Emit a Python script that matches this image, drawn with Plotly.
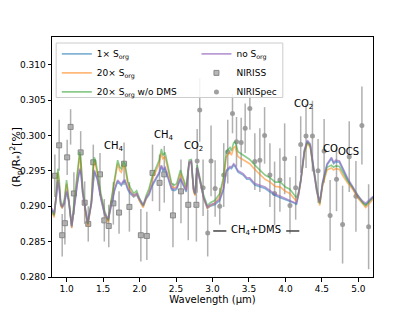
import plotly.graph_objects as go

# ---------------- data ----------------
wavelength = [
    0.80, 0.83, 0.86, 0.88, 0.90, 0.92, 0.94, 0.97, 1.00, 1.03,
    1.07, 1.11, 1.15, 1.18, 1.20, 1.22, 1.26, 1.29, 1.34, 1.36,
    1.38, 1.40, 1.42, 1.47, 1.52, 1.57, 1.61, 1.66, 1.70, 1.73,
    1.75, 1.78, 1.80, 1.84, 1.87, 1.92, 1.96, 2.00, 2.05, 2.09,
    2.13, 2.17, 2.21, 2.25, 2.27, 2.30, 2.32, 2.35, 2.39, 2.44,
    2.48, 2.51, 2.56, 2.60, 2.64, 2.68, 2.71, 2.74, 2.76, 2.79,
    2.83, 2.88, 2.93, 2.97, 3.03, 3.10, 3.15, 3.19, 3.24, 3.26,
    3.29, 3.31, 3.35, 3.42, 3.47, 3.51, 3.58, 3.65, 3.72, 3.79,
    3.86, 3.93, 4.00, 4.06, 4.13, 4.15, 4.18, 4.21, 4.26, 4.30,
    4.34, 4.38, 4.43, 4.47, 4.51, 4.57, 4.63, 4.66, 4.69, 4.74,
    4.78, 4.85, 4.92, 4.99, 5.06, 5.10, 5.16, 5.20,
]

model_1x = [
    .2895, .2888, .2913, .2935, .2923, .2901, .2898, .2903, .2920, .2906,
    .2870, .2903, .2933, .2951, .2943, .2918, .2890, .2874, .2903, .2933,
    .2949, .2943, .2938, .2910, .2888, .2880, .2898, .2923, .2935, .2931,
    .2929, .2934, .2935, .2923, .2918, .2913, .2916, .2908, .2900, .2910,
    .2916, .2928, .2935, .2943, .2946, .2956, .2950, .2953, .2940, .2923,
    .2922, .2924, .2938, .2930, .2920, .2960, .2962, .2923, .2916, .2953,
    .2934, .2910, .2897, .2900, .2902, .2908, .2923, .2949, .2954, .2953,
    .2958, .2956, .2948, .2944, .2938, .2938, .2930, .2927, .2925, .2920,
    .2915, .2912, .2909, .2906, .2904, .2902, .2916, .2935, .2978, .2991,
    .2986, .2954, .2920, .2904, .2933, .2958, .2967, .2960, .2963, .2962,
    .2953, .2938, .2926, .2913, .2905, .2902, .2908, .2912,
]

model_20x = [
    .2891, .2884, .2918, .2948, .2930, .2901, .2897, .2906, .2932, .2909,
    .2869, .2909, .2946, .2972, .2955, .2923, .2890, .2872, .2905, .2946,
    .2964, .2957, .2946, .2914, .2890, .2877, .2905, .2937, .2960, .2950,
    .2948, .2957, .2955, .2931, .2923, .2914, .2918, .2907, .2898, .2911,
    .2921, .2937, .2946, .2957, .2960, .2975, .2967, .2970, .2950, .2928,
    .2926, .2928, .2946, .2936, .2923, .2962, .2963, .2921, .2915, .2954,
    .2936, .2911, .2897, .2901, .2904, .2914, .2936, .2970, .2976, .2972,
    .2983, .2984, .2970, .2966, .2962, .2960, .2952, .2945, .2938, .2934,
    .2928, .2927, .2921, .2918, .2910, .2907, .2916, .2935, .2975, .2989,
    .2983, .2952, .2921, .2901, .2929, .2951, .2954, .2951, .2953, .2952,
    .2944, .2933, .2924, .2912, .2902, .2898, .2905, .2910,
]

model_20x_nodms = [
    .2894, .2887, .2922, .2953, .2935, .2905, .2900, .2910, .2937, .2913,
    .2873, .2913, .2951, .2977, .2960, .2927, .2894, .2875, .2908, .2950,
    .2969, .2962, .2951, .2918, .2894, .2880, .2908, .2941, .2965, .2955,
    .2953, .2962, .2960, .2935, .2927, .2918, .2922, .2911, .2901, .2915,
    .2925, .2941, .2951, .2962, .2965, .2981, .2972, .2976, .2955, .2932,
    .2930, .2932, .2951, .2940, .2927, .2965, .2966, .2925, .2918, .2958,
    .2940, .2915, .2901, .2905, .2908, .2918, .2941, .2977, .2983, .2978,
    .2990, .2991, .2977, .2972, .2968, .2966, .2958, .2951, .2944, .2940,
    .2934, .2934, .2927, .2924, .2915, .2912, .2920, .2937, .2977, .2991,
    .2985, .2955, .2925, .2904, .2932, .2955, .2958, .2955, .2957, .2956,
    .2948, .2936, .2927, .2915, .2905, .2901, .2908, .2913,
]

model_none = [
    .2897, .2890, .2915, .2937, .2925, .2903, .2900, .2905, .2922, .2908,
    .2872, .2905, .2935, .2953, .2945, .2920, .2892, .2876, .2905, .2935,
    .2951, .2945, .2940, .2912, .2890, .2882, .2900, .2925, .2937, .2933,
    .2931, .2936, .2937, .2925, .2920, .2915, .2918, .2910, .2902, .2912,
    .2918, .2930, .2937, .2945, .2948, .2958, .2952, .2955, .2942, .2925,
    .2924, .2926, .2940, .2932, .2922, .2962, .2964, .2925, .2918, .2955,
    .2936, .2912, .2899, .2902, .2904, .2910, .2925, .2951, .2956, .2955,
    .2960, .2958, .2950, .2946, .2940, .2940, .2932, .2929, .2927, .2922,
    .2917, .2914, .2911, .2908, .2906, .2904, .2918, .2937, .2980, .2993,
    .2988, .2956, .2922, .2906, .2935, .2960, .2969, .2962, .2965, .2964,
    .2955, .2940, .2928, .2915, .2907, .2904, .2910, .2914,
]

niriss_wl = [0.839, 0.898, 0.940, 0.977, 1.008, 1.055, 1.100, 1.193, 1.248,
             1.297, 1.366, 1.458, 1.517, 1.578, 1.641, 1.719, 1.788, 1.861,
             2.018, 2.100, 2.178, 2.274, 2.339, 2.458, 2.568, 2.668, 2.779]
niriss_depth = [0.2943, 0.2986, 0.2859, 0.2876, 0.2969, 0.3012, 0.2918, 0.2976,
                0.2905, 0.2875, 0.2962, 0.2945, 0.2880, 0.2872, 0.2904, 0.2891,
                0.2960, 0.2899, 0.2859, 0.2858, 0.2947, 0.2933, 0.2945, 0.2887,
                0.2921, 0.2902, 0.2902]
niriss_err = [0.0030, 0.0036, 0.0030, 0.0030, 0.0025, 0.0025, 0.0030, 0.0030,
              0.0030, 0.0025, 0.0025, 0.0030, 0.0030, 0.0030, 0.0030, 0.0030,
              0.0030, 0.0035, 0.0037, 0.0034, 0.0040, 0.0040, 0.0040, 0.0045,
              0.0045, 0.0050, 0.0052]

nirspec_wl = [2.790, 2.825, 2.871, 2.934, 2.980, 3.036, 3.099, 3.154, 3.209,
              3.274, 3.329, 3.393, 3.448, 3.512, 3.580, 3.649, 3.714, 3.787,
              3.851, 3.924, 3.989, 4.062, 4.140, 4.209, 4.282, 4.370, 4.447,
              4.530, 4.612, 4.700, 4.783, 4.874, 4.966, 5.048, 5.140]
nirspec_depth = [0.2964, 0.3036, 0.2926, 0.2862, 0.2964, 0.2925, 0.2900, 0.2944,
                 0.2977, 0.3031, 0.2991, 0.2990, 0.3010, 0.3038, 0.2963, 0.2965,
                 0.3000, 0.2944, 0.2918, 0.2937, 0.2967, 0.2901, 0.2926, 0.2987,
                 0.2999, 0.2999, 0.2950, 0.2978, 0.2887, 0.2938, 0.2874, 0.2970,
                 0.2914, 0.3014, 0.2871]
nirspec_err = [0.0045, 0.0045, 0.0040, 0.0033, 0.0050, 0.0040, 0.0026, 0.0045,
               0.0045, 0.0028, 0.0035, 0.0035, 0.0035, 0.0030, 0.0040, 0.0045,
               0.0040, 0.0045, 0.0045, 0.0045, 0.0050, 0.0040, 0.0045, 0.0040,
               0.0045, 0.0050, 0.0045, 0.0045, 0.0050, 0.0045, 0.0055, 0.0050,
               0.0050, 0.0055, 0.0060]

labels = [("CH<sub>4</sub>", 1.652, 0.2985), ("CH<sub>4</sub>", 2.329, 0.3000),
          ("CO<sub>2</sub>", 2.737, 0.2984), ("CO<sub>2</sub>", 4.246, 0.3043),
          ("CO", 4.615, 0.2982), ("OCS", 4.862, 0.2977)]

# ---------------- figure ----------------
FONT = "DejaVu Sans"
grey = "rgba(150,150,150,0.75)"
fig = go.Figure()

fig.add_trace(go.Scatter(
    x=niriss_wl, y=niriss_depth, mode="markers", name="NIRISS",
    legend="legend2", legendrank=2,
    error_y=dict(type="data", array=niriss_err, color=grey, thickness=1.5, width=0),
    error_x=dict(type="constant", value=0.025, color="rgba(200,200,200,0.9)", thickness=1, width=0),
    marker=dict(symbol="square", size=5, color="rgba(170,170,170,0.85)",
                line=dict(color="rgba(130,130,130,0.9)", width=1))))
fig.add_trace(go.Scatter(
    x=nirspec_wl, y=nirspec_depth, mode="markers", name="NIRISpec",
    legend="legend2", legendrank=3,
    error_y=dict(type="data", array=nirspec_err, color=grey, thickness=1.5, width=0),
    marker=dict(symbol="circle", size=5, color="rgba(150,150,150,0.9)")))

series = [
    ("1× S<sub>org</sub>", model_1x, "rgba(31,119,180,0.55)", "legend", 1),
    ("20× S<sub>org</sub>", model_20x, "rgba(255,127,14,0.55)", "legend", 2),
    ("20× S<sub>org</sub> w/o DMS", model_20x_nodms, "rgba(44,160,44,0.55)", "legend", 3),
    ("no S<sub>org</sub>", model_none, "rgba(148,103,189,0.65)", "legend2", 1),
]
for name, vals, col, lg, rank in series:
    fig.add_trace(go.Scatter(x=wavelength, y=vals, mode="lines", name=name,
                             line=dict(color=col, width=1.6), legend=lg,
                             legendrank=rank))

for txt, x, y in labels:
    fig.add_annotation(x=x, y=y, text=txt, showarrow=False,
                       font=dict(family=FONT, size=10, color="black"))

fig.add_annotation(x=3.594, y=0.2865, text="CH<sub>4</sub>+DMS", showarrow=False,
                   font=dict(family=FONT, size=10, color="black"))
fig.add_shape(type="line", x0=3.01, x1=3.19, y0=0.2865, y1=0.2865,
              line=dict(color="#444444", width=1.5))
fig.add_shape(type="line", x0=4.01, x1=4.19, y0=0.2865, y1=0.2865,
              line=dict(color="#444444", width=1.5))

# legend frame
fig.add_shape(type="rect", xref="paper", yref="paper", x0=0.013, x1=0.719,
              y0=0.748, y1=0.975, fillcolor="rgba(255,255,255,0.85)",
              line=dict(color="#cccccc", width=1), layer="above")

axis_common = dict(showline=True, linecolor="black", linewidth=1, mirror=True,
                   ticks="outside", ticklen=3.5, tickwidth=1, tickcolor="black",
                   showgrid=False, zeroline=False, automargin=False,
                   tickfont=dict(family=FONT, size=9, color="black"))
fig.update_xaxes(range=[0.8, 5.2], tickvals=[1.0, 1.5, 2.0, 2.5, 3.0, 3.5, 4.0, 4.5, 5.0],
                 tickformat=".1f",
                 title=dict(text="Wavelength (µm)", font=dict(family=FONT, size=10), standoff=2),
                 **axis_common)
fig.update_yaxes(range=[0.280, 0.3139],
                 tickvals=[0.280, 0.285, 0.290, 0.295, 0.300, 0.305, 0.310],
                 tickformat=".3f",
                 title=dict(text="(R<sub>p</sub>/R<sub>*</sub>)<sup>2</sup>[%]",
                            font=dict(family=FONT, size=11), standoff=4),
                 **axis_common)

legend_common = dict(bgcolor="rgba(0,0,0,0)", borderwidth=0, xanchor="left",
                     yanchor="top", font=dict(family=FONT, size=9, color="black"),
                     itemwidth=30, tracegroupgap=0, traceorder="normal")
fig.update_layout(
    width=407, height=303,
    margin=dict(l=44, r=42, t=29, b=34),
    paper_bgcolor="white", plot_bgcolor="white",
    font=dict(family=FONT, size=9, color="black"),
    showlegend=True,
    legend=dict(x=0.015, y=0.99, **legend_common),
    legend2=dict(x=0.45, y=0.99, **legend_common),
)

fig.write_html("out.html")
